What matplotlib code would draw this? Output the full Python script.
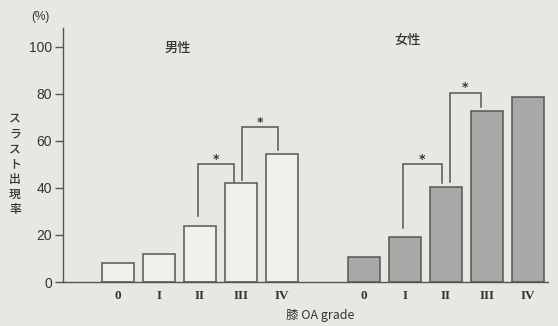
import matplotlib
matplotlib.use("Agg")
import matplotlib.pyplot as plt

# Thrust occurrence rate (%) by knee OA grade
grades = ["0", "I", "II", "III", "IV"]
male_rate = [8, 12, 24, 42, 54.5]
female_rate = [10.5, 19, 40.5, 72.5, 78.5]

male_pos = [0, 1, 2, 3, 4]
female_pos = [6, 7, 8, 9, 10]

# significance brackets: (x_left, x_right, left_leg_bottom, right_leg_bottom, top)
brackets = [
    (1.95, 2.82, 28, 42.5, 50),
    (3.02, 3.90, 43.5, 56, 66),
    (6.95, 7.90, 23, 42, 50),
    (8.10, 8.85, 42.5, 74.5, 80.5),
]

bg = "#e7e7e4"
edge = "#555555"
txt = "#333333"

fig = plt.figure(figsize=(5.58, 3.26), dpi=100, facecolor=bg)
ax = fig.add_axes([63 / 558, 44 / 326, 485 / 558, 254 / 326], facecolor=bg)

ax.bar(male_pos, male_rate, width=0.8, color="#efefec", edgecolor=edge, linewidth=1.1)
ax.bar(female_pos, female_rate, width=0.8, color="#a8a8a6", edgecolor=edge, linewidth=1.1)

for xl, xr, yl, yr, top in brackets:
    ax.plot([xl, xl, xr, xr], [yl, top, top, yr], color=edge, linewidth=1.1,
            solid_joinstyle="miter")
    ax.text((xl + xr) / 2, top + 2.0, "*", ha="center", va="center",
            fontsize=9, fontweight="bold", color=txt)

ax.set_xlim(-1.34, 10.49)
ax.set_ylim(0, 108)
ax.set_yticks([0, 20, 40, 60, 80, 100])
ax.tick_params(axis="y", direction="out", length=6, width=1.0, color=edge,
               labelsize=10, labelcolor=txt, pad=2)
for lab in ax.get_yticklabels():
    lab.set_family("Liberation Sans")

ax.set_xticks(male_pos + female_pos)
ax.set_xticklabels(grades + grades, family="Liberation Serif", fontsize=9.5,
                   fontweight="bold", color=txt)
ax.tick_params(axis="x", length=0, pad=6)

for s in ["top", "right"]:
    ax.spines[s].set_visible(False)
for s in ["left", "bottom"]:
    ax.spines[s].set_color(edge)
    ax.spines[s].set_linewidth(1.0)

jp = ["Noto Sans CJK JP", "DejaVu Sans"]
ax.text(1.46, 99.5, "男性", ha="center", va="center", fontsize=9.5, family=jp,
        fontweight="medium", color=txt)
ax.text(7.07, 103, "女性", ha="center", va="center", fontsize=9.5, family=jp,
        fontweight="medium", color=txt)

fig.text(40 / 558, 1 - 17 / 326, "(%)", ha="center", va="center", fontsize=8.5,
         family="Liberation Sans", color=txt)
fig.text(15 / 558, 1 - 164 / 326, "\n".join("スラスト出現率"), ha="center", va="center",
         fontsize=8.5, family=jp, fontweight="medium", color=txt, linespacing=1.22)
fig.text(320 / 558, 1 - 315 / 326, "膝 OA grade", ha="center", va="center",
         fontsize=9, family=jp, color=txt)

fig.savefig("out.png", dpi=100, facecolor=bg)
